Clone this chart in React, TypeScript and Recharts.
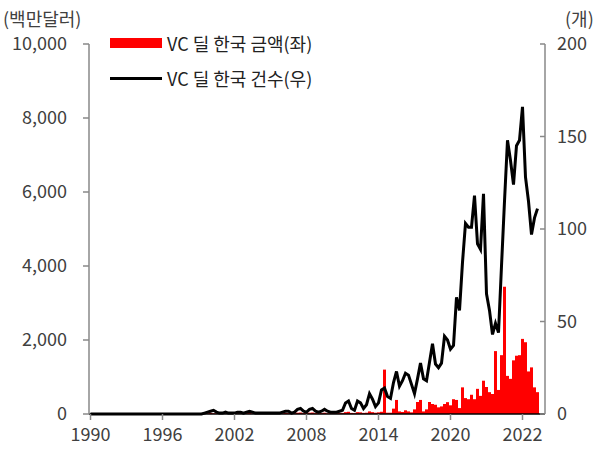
import { Bar, ComposedChart, Line, XAxis, YAxis } from 'recharts'

// quarterly through 2019, monthly from 2020
const quarterYears = Array.from({ length: 30 }, (_, i) => 1990 + i)
const monthlyPeriods = [
  '2020.01', '2020.02', '2020.03', '2020.04', '2020.05', '2020.06',
  '2020.07', '2020.08', '2020.09', '2020.10', '2020.11', '2020.12',
  '2021.01', '2021.02', '2021.03', '2021.04', '2021.05', '2021.06',
  '2021.07', '2021.08', '2021.09', '2021.10', '2021.11', '2021.12',
  '2022.01', '2022.02', '2022.03', '2022.04', '2022.05', '2022.06',
  '2022.07', '2022.08',
]
const periods = [
  ...quarterYears.flatMap((y) => [`${y}Q1`, `${y}Q2`, `${y}Q3`, `${y}Q4`]),
  ...monthlyPeriods,
]

const xTickPeriods = ['1990Q1', '1996Q1', '2002Q1', '2008Q1', '2014Q1', '2020.01', '2022.01']

// VC deal amount, USD mn (left axis)
const dealAmount: (number | null)[] = [
  0, 0, 0, 0, 0, 0, 0, 0, 0, 0, 0, 0, 0, 0, 0, 0, 0, 0, 0, 0,
  0, 0, 0, 0, 0, 0, 0, 0, 0, 0, 0, 0, 0, 0, 0, 0, 0, 0, 10, 20,
  30, 20, 15, 10, 10, 15, 10, 10, 15, 20, 15, 10, 20, 25, 15, 10, 10, 10, 15, 10,
  10, 15, 10, 15, 20, 30, 25, 15, 20, 35, 40, 25, 20, 35, 40, 25, 20, 25, 35, 20,
  20, 25, 20, 25, 30, 50, 60, 30, 25, 50, 45, 30, 35, 70, 50, 35, 45, 60, 1200, 35,
  35, 145, 380, 70, 55, 100, 70, 45, 125, 325, 380, 70, 125, 325, 270, 250, 180, 205, 270, 320,
  235, 400, 380, 160, 720, 430, 400, 520, 400, 680, 490, 900, 730, 590, 540, 1700, 650, 1590, 3440, 1030,
  950, 1450, 1575, 1590, 2030, 1940, 1150, 1260, 720, 590, null, null,
]

// VC deal count (right axis)
const dealCount: (number | null)[] = [
  0, 0, 0, 0, 0, 0, 0, 0, 0, 0, 0, 0, 0, 0, 0, 0, 0, 0, 0, 0,
  0, 0, 0, 0, 0, 0, 0, 0, 0, 0, 0, 0, 0, 0, 0, 0, 0, 0, 0.5, 1,
  1.5, 2, 1, 0.5, 0.5, 1, 0.5, 0.5, 0.5, 1, 1, 0.5, 1, 1.5, 1, 0.5, 0.5, 0.5, 0.5, 0.5,
  0.5, 0.5, 0.5, 0.5, 1, 1.5, 1.5, 0.5, 1, 2.5, 3, 1.5, 1, 2.5, 3, 1.5, 1, 1.5, 2.5, 1.5,
  1, 1, 1, 1.5, 2, 6, 7, 3, 2, 7, 6, 3, 5, 11, 8, 4, 6, 13, 14, 9.5,
  8.5, 17, 23, 15, 18, 22, 21, 16, 11, 19, 27.5, 19, 18, 28, 38, 27, 25, 27.5, 42, 40,
  35, 37, 63, 56, 82, 103, 101, 101, 118, 92, 89, 119, 65, 56, 43, 49, 44, 80, 115, 148,
  137, 124, 145, 148, 166, 128, 115, 97, 106, 111, null, null,
]

const data = periods.map((period, i) => ({
  period,
  amount: dealAmount[i],
  count: dealCount[i],
}))

const font = "'Noto Sans CJK KR', 'Noto Sans', sans-serif"
const textColor = '#404040'
const axisColor = '#888888'

export default function App() {
  return (
    <div
      style={{
        position: 'absolute',
        left: 0,
        top: 0,
        width: 597,
        height: 452,
        background: '#fff',
        fontFamily: font,
      }}
    >
      <ComposedChart
        width={597}
        height={452}
        data={data}
        margin={{ top: 44, right: 0, bottom: 0, left: 0 }}
        barCategoryGap={0}
      >
        <XAxis
          dataKey="period"
          type="category"
          height={38}
          ticks={xTickPeriods}
          interval={0}
          tickFormatter={(v: string) => v.slice(0, 4)}
          tick={{ fontSize: 18, fill: textColor, fontFamily: font }}
          tickSize={6}
          tickMargin={8}
          tickLine={{ stroke: axisColor, strokeWidth: 1.5 }}
          axisLine={{ stroke: '#000', strokeWidth: 1.5 }}
        />
        <YAxis
          yAxisId="left"
          width={89}
          domain={[0, 10000]}
          ticks={[0, 2000, 4000, 6000, 8000, 10000]}
          tickFormatter={(v: number) => v.toLocaleString('en-US')}
          tick={{ fontSize: 18, fill: textColor, fontFamily: font }}
          tickSize={6}
          tickMargin={16}
          tickLine={{ stroke: axisColor, strokeWidth: 1.5 }}
          axisLine={{ stroke: axisColor, strokeWidth: 1.5 }}
        />
        <YAxis
          yAxisId="right"
          orientation="right"
          width={52}
          domain={[0, 200]}
          ticks={[0, 50, 100, 150, 200]}
          tick={{ fontSize: 18, fill: textColor, fontFamily: font }}
          tickSize={-5}
          tickMargin={17}
          tickLine={{ stroke: axisColor, strokeWidth: 1.5 }}
          axisLine={{ stroke: axisColor, strokeWidth: 1.5 }}
        />
        <Bar
          yAxisId="left"
          dataKey="amount"
          fill="#ff0000"
          isAnimationActive={false}
        />
        <Line
          yAxisId="right"
          dataKey="count"
          type="linear"
          stroke="#000"
          strokeWidth={3}
          dot={false}
          activeDot={false}
          isAnimationActive={false}
        />
      </ComposedChart>

      <div style={{ position: 'absolute', left: 3, top: 8, fontSize: 18, lineHeight: '20px', color: textColor }}>
        (백만달러)
      </div>
      <div style={{ position: 'absolute', left: 565, top: 8, fontSize: 18, lineHeight: '20px', color: textColor }}>
        (개)
      </div>

      <div style={{ position: 'absolute', left: 110, top: 38, width: 52, height: 10, background: '#ff0000' }} />
      <div style={{ position: 'absolute', left: 167, top: 33, fontSize: 18, lineHeight: '20px', color: '#222' }}>
        VC 딜 한국 금액(좌)
      </div>
      <div style={{ position: 'absolute', left: 110, top: 77, width: 52, height: 3, background: '#000' }} />
      <div style={{ position: 'absolute', left: 167, top: 68, fontSize: 18, lineHeight: '20px', color: '#222' }}>
        VC 딜 한국 건수(우)
      </div>
    </div>
  )
}
